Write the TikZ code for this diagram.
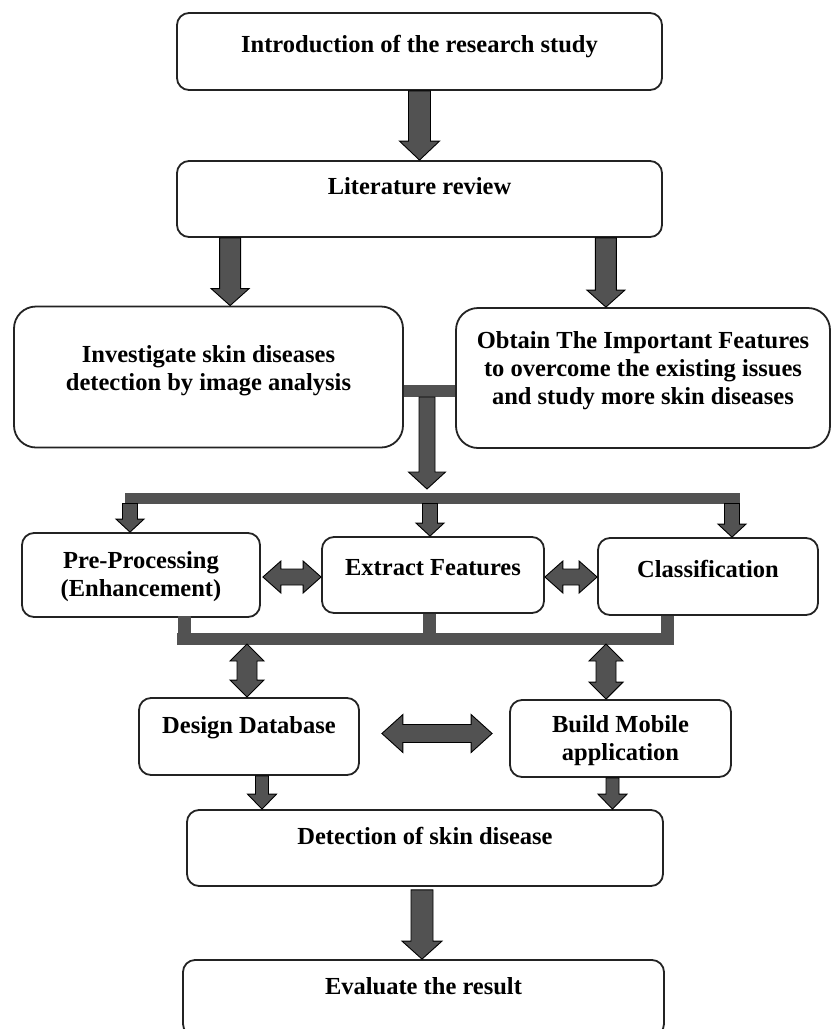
\documentclass[tikz,border=0pt]{standalone}
\usepackage{fontspec}
\setmainfont{Liberation Serif}
\usetikzlibrary{calc}
\definecolor{arrowgray}{RGB}{82,82,82}
\definecolor{boxline}{RGB}{35,35,35}
\tikzset{
  box/.style={draw=boxline, line width=1.8pt, rounded corners=12pt, fill=white, inner sep=0pt,
    font=\fontsize{24.5}{28}\selectfont\bfseries},
  bigbox/.style={box, rounded corners=22pt},
  blockarrow/.style={fill=arrowgray, draw=black, line width=0.9pt, line join=miter},
  barline/.style={draw=arrowgray, line cap=butt},
}
\newcommand\bt[2]{\leavevmode\vphantom{\begin{tabular}{@{}c@{}}#2\end{tabular}}\smash{\raisebox{#1}{\begin{tabular}{@{}c@{}}#2\end{tabular}}}}
% downward block arrow: from, to, shaft half width, head half width, head length
\newcommand\blkdown[5]{\draw[blockarrow] let \p1=(#1), \p2=(#2) in
  (\x1-#3pt,\y1) -- (\x1+#3pt,\y1) -- (\x1+#3pt,\y2+#5pt) -- (\x1+#4pt,\y2+#5pt) -- (\x1,\y2)
  -- (\x1-#4pt,\y2+#5pt) -- (\x1-#3pt,\y2+#5pt) -- cycle;}
% vertical double block arrow: top, bottom
\newcommand\blkvv[5]{\draw[blockarrow] let \p1=(#1), \p2=(#2) in
  (\x1,\y1) -- (\x1+#4pt,\y1-#5pt) -- (\x1+#3pt,\y1-#5pt) -- (\x1+#3pt,\y2+#5pt) -- (\x1+#4pt,\y2+#5pt)
  -- (\x1,\y2) -- (\x1-#4pt,\y2+#5pt) -- (\x1-#3pt,\y2+#5pt) -- (\x1-#3pt,\y1-#5pt) -- (\x1-#4pt,\y1-#5pt) -- cycle;}
% horizontal double block arrow: left, right
\newcommand\blkhh[5]{\draw[blockarrow] let \p1=(#1), \p2=(#2) in
  (\x1,\y1) -- (\x1+#5pt,\y1+#4pt) -- (\x1+#5pt,\y1+#3pt) -- (\x2-#5pt,\y1+#3pt) -- (\x2-#5pt,\y1+#4pt)
  -- (\x2,\y1) -- (\x2-#5pt,\y1-#4pt) -- (\x2-#5pt,\y1-#3pt) -- (\x1+#5pt,\y1-#3pt) -- (\x1+#5pt,\y1-#4pt) -- cycle;}
\begin{document}
\begin{tikzpicture}[x=1pt,y=-1pt]
\useasboundingbox (0,0) rectangle (833,1029);

% boxes
\node[box, minimum width=485pt, minimum height=77pt] (intro) at (419.5,51.5) {\bt{5pt}{Introduction of the research study}};
\node[box, minimum width=485pt, minimum height=76pt] (lit) at (419.5,199) {\bt{10pt}{Literature review}};
\node[bigbox, minimum width=389pt, minimum height=141pt] (inv) at (208.5,377) {\bt{6pt}{Investigate skin diseases\\detection by image analysis}};
\node[bigbox, minimum width=374pt, minimum height=140pt] (obt) at (643,378) {\bt{7pt}{Obtain The Important Features\\to overcome the existing issues\\and study more skin diseases}};
\node[box, minimum width=238pt, minimum height=84pt] (pre) at (141,575) {\bt{-2pt}{Pre-Processing\\(Enhancement)}};
\node[box, minimum width=222pt, minimum height=76pt] (ext) at (433,575) {\bt{5.5pt}{Extract Features}};
\node[box, minimum width=220pt, minimum height=77pt] (cls) at (708,576.5) {\bt{4.5pt}{Classification}};
\node[box, minimum width=220pt, minimum height=77pt] (des) at (249,736.5) {\bt{9pt}{Design Database}};
\node[box, minimum width=221pt, minimum height=77pt] (bld) at (620.5,738.5) {\bt{-2pt}{Build Mobile\\application}};
\node[box, minimum width=476pt, minimum height=76pt] (det) at (425,848) {\bt{9.5pt}{Detection of skin disease}};
\node[box, minimum width=481pt, minimum height=76pt] (eva) at (423.5,998) {\bt{9.5pt}{Evaluate the result}};

% top arrows
\blkdown{intro.south}{lit.north}{11}{20}{19}
\blkdown{$(lit.south west)+(54,0)$}{inv.north}{10.5}{19}{17}
\blkdown{$(lit.south east)+(-57,0)$}{obt.north}{10.5}{19}{17}

% junction bar between the two big boxes
\coordinate (hubL) at ($(inv.east)+(0,14)$);
\coordinate (hubR) at ($(obt.west)+(0,13)$);
\draw[barline, line width=12pt] (hubL) -- (hubR);
\coordinate (hub) at (427,397);
\coordinate (tbtop) at (427,489);
\blkdown{hub}{tbtop}{8}{18.5}{17}

% distribution bar
\coordinate (tbL) at (125,498);
\coordinate (tbR) at (740,498);
\draw[barline, line width=11pt] (tbL) -- (tbR);
\coordinate (t1) at (130,503.5);
\coordinate (t2) at (430,503.5);
\coordinate (t3) at (732,503.5);
\blkdown{t1}{pre.north}{7.5}{14}{13}
\blkdown{t2}{ext.north}{7.5}{14}{13}
\blkdown{t3}{cls.north}{7.5}{14}{13}

% horizontal double arrows between the three steps
\blkhh{$(pre.east)+(2,2)$}{ext.west}{8}{16}{18}
\blkhh{$(ext.east)+(0,2)$}{cls.west}{8}{16}{18}

% collecting bar
\coordinate (s1) at ([xshift=43pt]pre.south);
\coordinate (s2) at ([xshift=-4pt]ext.south);
\coordinate (s3) at ([xshift=-41pt]cls.south);
\coordinate (cbL) at (177,639);
\coordinate (cbR) at (674,639);
\draw[barline, line width=13pt] ([yshift=2pt]s1) -- (s1 |- cbL);
\draw[barline, line width=13pt] (s2) -- (s2 |- cbL);
\draw[barline, line width=13pt] (s3) -- (s3 |- cbL);
\draw[barline, line width=12pt] (cbL) -- (cbR);
\coordinate (v1) at (247,644);
\coordinate (v2) at (606,644);
\blkvv{v1}{des.north}{10}{17}{17}
\blkvv{v2}{bld.north}{10}{17}{17}

% database <-> mobile app
\blkhh{$(des.east)+(22,-3)$}{$(bld.west)+(-17,0)$}{9}{19}{21}

% to detection
\blkdown{[xshift=13pt]des.south}{det.north}{6.5}{14.5}{15}
\blkdown{[xshift=-8pt]bld.south}{det.north}{6.5}{14.5}{15}
\blkdown{$(det.south)+(-3,3)$}{eva.north}{11}{20}{18}
\end{tikzpicture}
\end{document}
